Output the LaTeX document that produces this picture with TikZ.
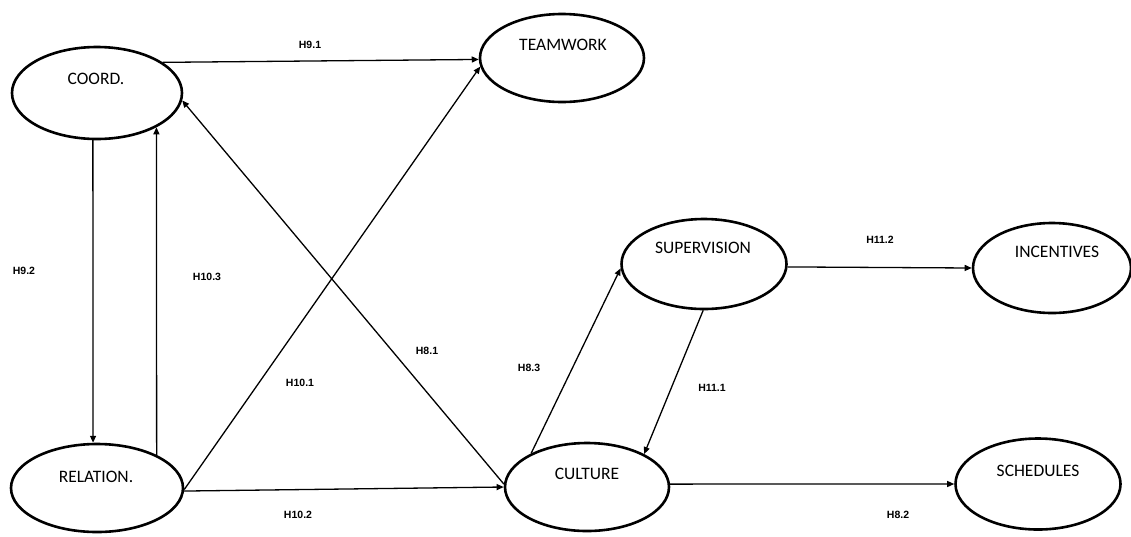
\documentclass[tikz,border=0pt]{standalone}
\usepackage{fontspec}
\setmainfont{Carlito}
\newfontfamily\hypfont{Liberation Sans}
\usetikzlibrary{shapes.geometric,arrows.meta}

\tikzset{
  construct/.style={ellipse, draw, line width=2.6pt, inner sep=0pt,
    minimum width=#1},
  construct/.default=166pt,
  cname/.style={font=\fontsize{17.5}{20}\selectfont, inner sep=0pt, anchor=center},
  hyp/.style={font=\hypfont\bfseries\fontsize{10.5}{12}\selectfont, inner sep=0pt},
  path/.style={line width=1.3pt, -{Triangle[length=7pt,width=6pt]}},
}

\begin{document}
\begin{tikzpicture}[x=1pt,y=-1pt]
\useasboundingbox (0,0) rectangle (1131,536);

% constructs
\node[construct=170pt, minimum height=92pt] (coord) at (97,93) {};
\node[cname] (coordT) at (96,79) {COORD.};

\node[construct=164pt, minimum height=88pt] (team) at (562,58) {};
\node[cname] (teamT) at (563,45) {TEAMWORK};

\node[construct=172pt, minimum height=88pt] (rel) at (97,488) {};
\node[cname] (relT) at (96,477) {RELATION.};

\node[construct=164pt, minimum height=88pt] (cult) at (587,487) {};
\node[cname] (cultT) at (587,474) {CULTURE};

\node[construct=165pt, minimum height=90pt] (sup) at (704,264) {};
\node[cname] (supT) at (703,248) {SUPERVISION};

\node[construct=158pt, minimum height=90pt] (inc) at (1052,268) {};
\node[cname] (incT) at (1057,252) {INCENTIVES};

\node[construct=165pt, minimum height=91pt] (sch) at (1038,484) {};
\node[cname] (schT) at (1038,471) {SCHEDULES};

% hypothesised paths
\draw[path] (coord.25) -- (team.181);
\draw[path] (coord.-95) -- (rel.95);
\draw[path] (rel.29) -- (coord.-30);
\draw[path] (cult.178) -- (coord.-5);
\draw[path] (rel.-1) -- (team.186);
\draw[path] (rel.-2) -- (cult.180);
\draw[path] (cult.149) -- (sup.183);
\draw[path] (sup.-91) -- (cult.30);
\draw[path] (sup.-2) -- (inc.180);
\draw[path] (cult.2) -- (sch.180);

% path labels
\node[hyp] (h91) at (310,45) {H9.1};
\node[hyp] (h92) at (24,271) {H9.2};
\node[hyp] (h103) at (207,277) {H10.3};
\node[hyp] (h81) at (427,351) {H8.1};
\node[hyp] (h83) at (529,368) {H8.3};
\node[hyp] (h101) at (300,383) {H10.1};
\node[hyp] (h102) at (298,515) {H10.2};
\node[hyp] (h111) at (712,388) {H11.1};
\node[hyp] (h112) at (880,240) {H11.2};
\node[hyp] (h82) at (898,515) {H8.2};
\end{tikzpicture}
\end{document}
